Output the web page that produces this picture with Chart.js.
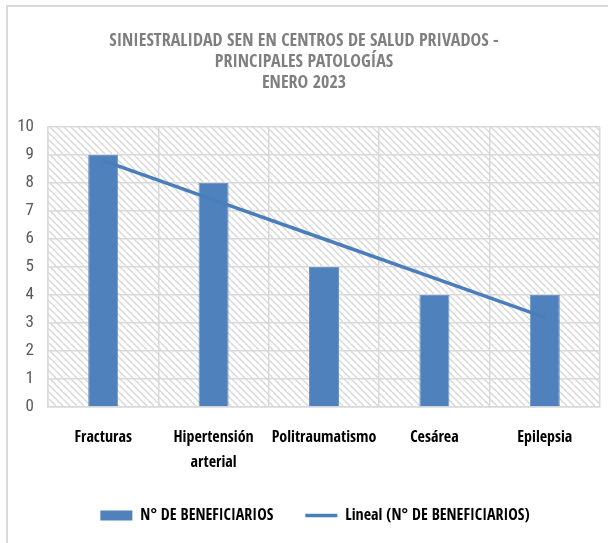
<!DOCTYPE html>
<html>
<head>
<meta charset="utf-8">
<script src="https://cdn.jsdelivr.net/npm/chart.js@4"></script>
<style>
  html, body { margin: 0; padding: 0; background: #fff; overflow: hidden; }
  #wrap { width: 608px; height: 543px; position: relative; }
</style>
</head>
<body>
<div id="wrap"><canvas id="patologiasChart"></canvas></div>
<script>
const categorias = ["Fracturas", ["Hipertensión", "arterial"], "Politraumatismo", "Cesárea", "Epilepsia"];
const beneficiarios = [9, 8, 5, 4, 4];
const tendencia = [8.8, 7.4, 6.0, 4.6, 3.2];
const titulo = ["SINIESTRALIDAD SEN EN CENTROS DE SALUD PRIVADOS -", "PRINCIPALES PATOLOGÍAS", "ENERO 2023"];

const fuenteBold = "'Open Sans Condensed', 'Roboto Condensed', sans-serif";
const fuenteNormal = "'Roboto Condensed', 'Open Sans Condensed', sans-serif";
const azul = "#4f81bd";
const gris = "#d9d9d9";

// fondo rayado del área del gráfico
function rayado() {
	const c = document.createElement("canvas");
	c.width = 7;
	c.height = 7;
	const g = c.getContext("2d");
	g.strokeStyle = "#d6d6d6";
	g.lineWidth = 1.3;
	for (let k = -1; k <= 1; k++) {
		g.beginPath();
		g.moveTo(k * 7, 0);
		g.lineTo(k * 7 + 7, 7);
		g.stroke();
	}
	return g.createPattern(c, "repeat");
}

const fondo = {
	id: "fondo",
	afterLayout(chart) {
		// la leyenda va centrada un poco a la derecha
		chart.legend.left = 30;
	},
	beforeDraw(chart) {
		const { ctx, chartArea: a } = chart;
		ctx.save();
		ctx.fillStyle = rayado();
		ctx.fillRect(a.left, a.top, a.right - a.left, a.bottom - a.top);
		// marco exterior
		ctx.strokeStyle = gris;
		ctx.lineWidth = 2;
		ctx.beginPath();
		ctx.moveTo(608, 6);
		ctx.lineTo(7, 6);
		ctx.lineTo(7, 560);
		ctx.stroke();
		ctx.restore();
	},
};

const ctx = document.getElementById("patologiasChart").getContext("2d");

const chart = new Chart(ctx, {
	type: "bar",
	data: {
		labels: categorias,
		datasets: [
			{
				type: "line",
				label: "Lineal (N° DE BENEFICIARIOS)",
				data: tendencia,
				borderColor: "#4a7ebb",
				backgroundColor: "#4a7ebb",
				borderWidth: 3.5,
				pointRadius: 0,
				tension: 0,
				order: 0,
			},
			{
				label: "N° DE BENEFICIARIOS",
				data: beneficiarios,
				backgroundColor: azul,
				borderColor: "#7096c8",
				borderWidth: 1,
				categoryPercentage: 1,
				barPercentage: 0.272,
				order: 1,
			},
		],
	},
	options: {
		responsive: true,
		maintainAspectRatio: false,
		animation: false,
		layout: { padding: { left: 8, right: 8, top: 0, bottom: 9.5 } },
		plugins: {
			title: {
				display: true,
				text: titulo,
				color: "#7f7f7f",
				font: { family: fuenteBold, size: 18, weight: "bold", lineHeight: 21 / 18 },
				padding: { top: 31, bottom: 33 },
			},
			legend: {
				display: true,
				position: "bottom",
				labels: {
					usePointStyle: true,
					pointStyleWidth: 32,
					boxHeight: 10,
					padding: 32,
					color: "#000",
					font: { family: fuenteBold, size: 16, weight: "bold" },
					sort: (a, b) => b.datasetIndex - a.datasetIndex,
					generateLabels(chart) {
						const items = Chart.defaults.plugins.legend.labels.generateLabels(chart);
						items.forEach((it) => {
							if (it.datasetIndex === 0) {
								it.pointStyle = "line";
								it.lineWidth = 3.5;
								it.strokeStyle = "#4a7ebb";
							} else {
								it.pointStyle = "rect";
								it.lineWidth = 0;
							}
						});
						return items;
					},
				},
			},
			tooltip: { enabled: false },
		},
		scales: {
			x: {
				offset: true,
				grid: { offset: true, color: gris, lineWidth: 1.5, drawTicks: false },
				border: { color: gris, width: 1.5 },
				ticks: {
					color: "#000",
					padding: 18,
					maxRotation: 0,
					autoSkip: false,
					font: { family: fuenteBold, size: 16, weight: "bold", lineHeight: 25 / 16 },
				},
				afterFit: (s) => { s.height = 68.5; },
			},
			y: {
				min: 0,
				max: 10,
				grid: { color: gris, lineWidth: 1.5, drawTicks: false },
				border: { color: gris, width: 1.5 },
				ticks: {
					stepSize: 1,
					color: "#595959",
					padding: 14,
					font: { family: fuenteNormal, size: 17 },
				},
				afterFit: (s) => { s.width = 40; },
			},
		},
	},
	plugins: [fondo],
});
</script>
</body>
</html>
